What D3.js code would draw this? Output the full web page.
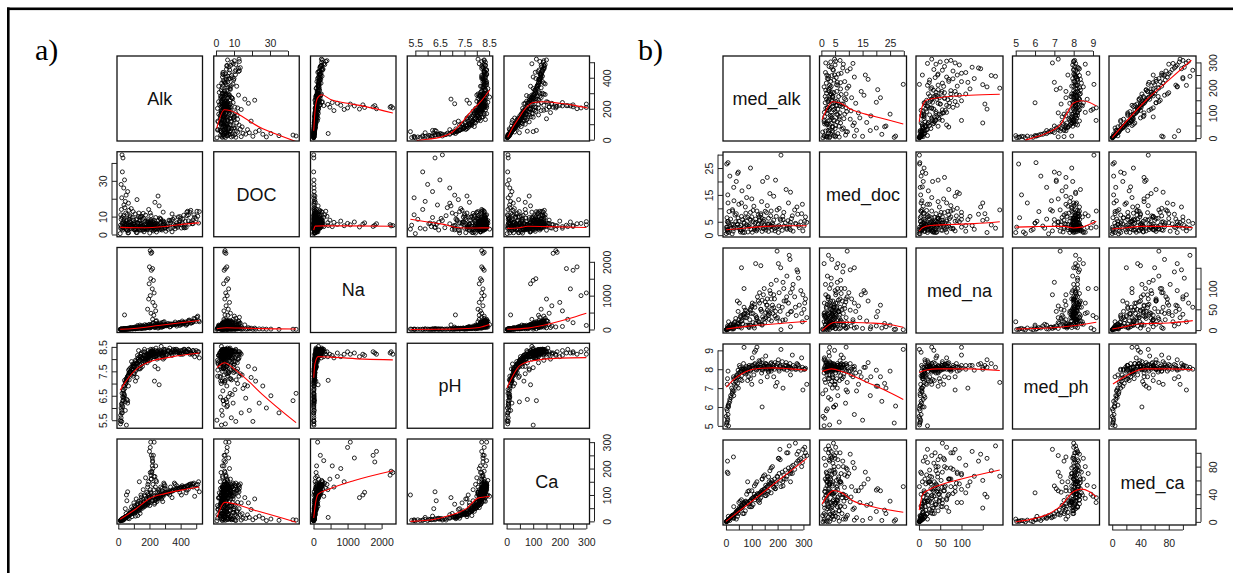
<!DOCTYPE html>
<html>
<head>
<meta charset="utf-8">
<script src="https://cdn.jsdelivr.net/npm/d3@7"></script>
<style>
  html, body { margin: 0; padding: 0; background: #fff; }
  svg { display: block; font-family: "Liberation Sans", Arial, sans-serif; }
</style>
</head>
<body>
<svg id="chart" width="1233" height="573"></svg>
<script>
// ---- a) raw variables, one value per lake (same order in every array)
const namesA = ['Alk', 'DOC', 'Na', 'pH', 'Ca'];

const aAlk = [
  14, 18, 22, 16, 25, 30, 20, 28, 35, 12,
  24, 30, 26, 18, 40, 35, 50, 22, 60, 45,
  40, 55, 65, 75, 85, 95, 48, 58, 70, 90,
  32, 42, 52, 62, 80, 100, 38, 68, 88, 78,
  45, 57, 72, 97, 34, 83, 66, 93, 51, 76,
  105, 112, 120, 128, 135, 142, 150, 158, 165, 172,
  180, 188, 195, 108, 118, 125, 138, 146, 155, 162,
  170, 177, 185, 192, 199, 102, 115, 132, 148, 168,
  183, 110, 140, 160, 175, 190, 123, 153, 196, 130,
  205, 212, 218, 225, 208, 215, 222, 230, 240, 250,
  260, 270, 280, 290, 300, 235, 255, 245, 265, 275,
  285, 295, 202, 210, 220, 228, 238, 248, 258, 268,
  278, 288, 298, 232, 262, 242, 252, 272, 282, 292,
  310, 320, 335, 350, 365, 380, 395, 410, 425, 440,
  455, 470, 485, 500, 515, 505, 490, 520, 330, 345,
  360, 375, 390, 405, 420, 435, 450, 465, 480, 510,
  205, 210, 215, 200, 220, 212, 208, 225, 198, 218,
  230, 205, 195, 222, 235, 188, 240, 210, 228, 40,
  52, 60, 45, 55, 15, 24, 36, 62, 110, 140,
  75, 95, 125, 85, 105, 65, 28, 115, 145, 160,
  135, 175, 190, 20, 33, 88, 50, 70, 100, 120,
  150, 175, 200, 225, 250, 275, 300, 325, 350, 375,
  400, 425, 450, 165, 190, 215, 240, 265, 290, 315,
  340, 365, 390, 415, 440, 60, 80, 100, 120, 140,
  155, 185, 205, 235, 255, 285, 305, 335, 355, 385,
  405, 430, 460, 480, 110, 130, 145, 170, 195, 220,
  245, 270, 295, 320, 345, 370, 395, 420, 445, 475
];
const aDoc = [
  5.2, 8.5, 3.1, 11.0, 6.4, 4.0, 14.0, 2.5, 7.8, 0.5,
  44.5, 42.8, 35.0, 28.0, 30.5, 26.0, 22.0, 20.5, 24.0, 18.5,
  6.0, 8.2, 4.5, 10.5, 3.2, 5.8, 12.0, 2.4, 7.0, 9.5,
  3.8, 15.0, 5.0, 6.6, 4.2, 2.8, 9.0, 13.5, 6.1, 3.5,
  4.8, 11.2, 5.4, 8.0, 6.8, 14.5, 1.0, 4.6, 7.6, 9.8,
  5.5, 3.0, 8.8, 4.1, 6.3, 2.6, 10.2, 5.0, 3.6, 7.4,
  4.4, 2.9, 6.9, 11.5, 4.9, 3.3, 7.7, 5.7, 2.3, 9.1,
  4.0, 6.0, 3.4, 8.3, 5.1, 6.7, 1.2, 12.0, 3.9, 5.3,
  7.1, 4.5, 9.6, 2.7, 10.8, 3.7, 6.2, 4.7, 5.9, 3.1,
  4.2, 6.1, 3.5, 5.0, 7.2, 2.8, 4.6, 8.0, 3.2, 5.6,
  4.0, 6.5, 2.5, 7.5, 3.8, 18.0, 21.5, 4.8, 9.2, 3.0,
  5.4, 6.8, 0.8, 10.5, 4.4, 3.6, 5.9, 2.9, 7.9, 4.1,
  3.3, 12.5, 5.2, 2.6, 16.0, 6.3, 4.9, 8.6, 3.9, 5.7,
  4.5, 6.0, 3.4, 8.5, 5.2, 4.0, 10.0, 6.5, 3.7, 12.5,
  5.8, 7.2, 11.0, 8.8, 6.4, 13.0, 9.6, 12.8, 7.8, 1.5,
  9.4, 4.6, 6.9, 5.5, 10.8, 3.9, 7.6, 13.5, 6.1, 10.2,
  5.0, 5.5, 4.8, 6.0, 5.2, 4.5, 6.5, 5.8, 4.2, 7.0,
  5.4, 6.2, 4.9, 7.5, 5.6, 6.8, 4.4, 8.0, 6.6, 5.0,
  3.0, 4.0, 6.0, 5.5, 3.5, 9.5, 16.5, 0.9, 3.5, 4.4,
  7.2, 12.8, 6.5, 5.0, 2.6, 17.5, 6.0, 8.2, 9.8, 11.8,
  2.4, 3.8, 4.6, 4.4, 10.5, 4.1, 2.9, 8.6, 5.9, 19.5,
  4.5, 3.0, 6.0, 2.0, 5.5, 7.0, 3.5, 8.0, 4.0, 6.5,
  9.0, 5.0, 11.0, 1.5, 7.5, 3.8, 9.5, 2.6, 6.2, 4.8,
  7.8, 3.2, 5.8, 8.6, 10.5, 2.2, 6.8, 4.2, 1.0, 5.2,
  8.4, 2.8, 12.0, 4.6, 3.4, 7.2, 1.8, 6.6, 5.6, 9.8,
  3.6, 7.4, 12.5, 8.2, 2.4, 10.0, 6.4, 3.0, 14.0, 5.4,
  1.4, 8.8, 4.4, 2.9, 11.5, 5.0, 7.6, 4.0, 13.0, 6.0
];
const aNa = [
  6, 9, 5, 12, 8, 14, 7, 11, 10, 4,
  6, 8, 5, 10, 12, 15, 9, 7, 18, 22,
  12, 20, 25, 15, 30, 35, 18, 28, 40, 22,
  9, 14, 24, 11, 45, 52, 16, 33, 27, 19,
  10, 36, 48, 60, 13, 38, 21, 29, 17, 42,
  40, 55, 70, 35, 90, 60, 45, 110, 80, 50,
  120, 65, 95, 28, 75, 48, 130, 38, 85, 58,
  140, 42, 100, 72, 150, 32, 62, 52, 105, 66,
  125, 22, 46, 78, 56, 88, 115, 30, 135, 68,
  60, 150, 90, 200, 120, 75, 180, 110, 85, 160,
  95, 130, 70, 210, 120, 55, 40, 260, 100, 145,
  80, 230, 45, 65, 300, 105, 170, 125, 60, 190,
  115, 90, 155, 70, 135, 240, 175, 65, 205, 100,
  110, 180, 90, 140, 220, 160, 120, 250, 190, 150,
  280, 200, 330, 240, 260, 360, 300, 230, 75, 130,
  170, 100, 210, 145, 175, 125, 265, 185, 225, 395,
  2330, 2250, 2280, 1850, 1800, 1750, 1500, 1450, 1350, 1200,
  1080, 1000, 900, 800, 700, 600, 550, 480, 420, 430,
  12, 20, 15, 22, 5, 8, 12, 30, 25, 40,
  18, 26, 34, 60, 70, 14, 6, 45, 55, 65,
  48, 58, 72, 4, 9, 12, 8, 16, 20, 38,
  45, 60, 80, 95, 110, 120, 140, 150, 160, 170,
  180, 200, 230, 35, 70, 85, 100, 130, 115, 135,
  155, 145, 190, 210, 175, 18, 25, 30, 40, 50,
  55, 65, 75, 90, 105, 125, 110, 165, 150, 185,
  195, 220, 250, 240, 38, 48, 58, 68, 78, 88,
  98, 108, 118, 128, 138, 148, 158, 168, 178, 205
];
const aPh = [
  5.35, 5.6, 5.9, 5.45, 6.1, 6.3, 5.8, 6.45, 6.6, 5.5,
  6.6, 6.3, 5.8, 6.0, 6.5, 6.9, 7.1, 5.45, 6.2, 5.9,
  6.9, 7.2, 7.35, 7.5, 7.6, 7.7, 7.0, 7.25, 7.45, 7.55,
  6.7, 6.8, 7.1, 7.3, 7.65, 7.8, 6.55, 7.4, 7.7, 7.5,
  7.05, 7.15, 7.6, 7.75, 6.45, 7.35, 7.55, 7.8, 7.2, 7.45,
  7.7, 7.9, 7.85, 8.0, 7.95, 8.1, 7.8, 8.05, 8.15, 7.9,
  8.2, 8.1, 8.25, 7.5, 7.65, 8.05, 7.95, 8.2, 7.7, 8.0,
  8.3, 8.15, 7.85, 8.35, 8.1, 7.4, 7.8, 7.6, 8.25, 8.4,
  8.05, 7.95, 7.75, 8.3, 7.9, 8.0, 8.15, 8.05, 8.2, 8.35,
  8.2, 8.3, 8.35, 8.25, 8.4, 8.15, 8.3, 8.2, 8.1, 8.3,
  8.2, 8.35, 8.25, 8.15, 8.4, 7.7, 7.6, 8.3, 8.05, 8.52,
  8.1, 8.35, 7.95, 8.05, 8.4, 8.2, 8.35, 8.0, 8.25, 8.3,
  8.1, 8.0, 8.25, 7.1, 6.95, 8.45, 8.2, 8.3, 8.15, 8.4,
  8.2, 8.3, 8.25, 8.35, 8.4, 8.3, 8.2, 8.35, 8.4, 8.3,
  8.35, 8.25, 8.3, 8.35, 8.3, 8.2, 8.1, 8.05, 8.45, 8.15,
  8.3, 8.4, 8.25, 8.2, 8.35, 8.3, 8.4, 8.25, 8.35, 8.3,
  8.2, 8.25, 8.3, 8.2, 8.25, 8.3, 8.15, 8.2, 8.1, 8.25,
  8.2, 8.3, 8.2, 8.1, 8.25, 8.05, 8.15, 8.2, 8.1, 7.13,
  5.3, 6.3, 6.25, 6.35, 5.7, 6.2, 6.4, 7.3, 7.1, 7.6,
  7.45, 7.3, 7.8, 7.9, 7.7, 6.9, 6.05, 7.55, 7.65, 7.85,
  8.1, 8.0, 7.95, 6.15, 6.75, 7.6, 7.0, 7.15, 7.4, 7.25,
  8.0, 8.1, 8.2, 8.25, 8.3, 8.2, 8.3, 8.35, 8.3, 8.25,
  8.35, 8.3, 8.4, 7.9, 8.1, 8.15, 8.2, 8.25, 8.3, 8.2,
  8.25, 8.35, 8.3, 8.2, 8.3, 7.3, 7.5, 7.7, 7.85, 7.95,
  8.05, 8.15, 8.0, 8.1, 8.35, 8.25, 8.15, 8.3, 8.4, 8.35,
  8.25, 8.3, 8.2, 8.35, 7.8, 7.9, 8.1, 8.0, 8.2, 8.3,
  8.15, 8.25, 8.05, 8.35, 8.2, 8.3, 8.25, 8.4, 8.3, 8.2
];
const aCa = [
  4, 6, 8, 3, 7, 10, 5, 12, 9, 2,
  5, 6, 4, 3, 9, 12, 14, 6, 20, 15,
  14, 18, 22, 26, 30, 35, 16, 20, 28, 33,
  10, 12, 19, 23, 27, 40, 11, 24, 36, 31,
  17, 21, 25, 42, 9, 29, 26, 38, 15, 34,
  45, 38, 60, 52, 48, 70, 55, 65, 75, 58,
  85, 62, 90, 35, 42, 68, 57, 80, 50, 72,
  95, 66, 78, 105, 88, 30, 46, 40, 92, 100,
  110, 54, 44, 84, 62, 70, 64, 58, 98, 76,
  120, 160, 210, 250, 300, 185, 140, 95, 80, 100,
  115, 90, 125, 105, 135, 70, 85, 150, 110, 95,
  75, 140, 60, 105, 230, 170, 130, 75, 120, 100,
  85, 95, 125, 65, 90, 155, 110, 130, 115, 145,
  120, 105, 130, 115, 140, 125, 110, 135, 128, 118,
  140, 132, 145, 138, 150, 125, 95, 112, 100, 90,
  145, 135, 120, 100, 128, 108, 122, 142, 130, 140,
  185, 175, 190, 265, 225, 250, 110, 100, 90, 240,
  300, 280, 150, 200, 170, 130, 210, 160, 120, 15,
  100, 112, 48, 78, 3, 7, 11, 12, 20, 30,
  40, 48, 22, 55, 60, 25, 8, 85, 100, 120,
  150, 165, 140, 6, 5, 18, 30, 10, 70, 45,
  60, 70, 85, 90, 95, 100, 110, 115, 120, 125,
  130, 125, 135, 55, 75, 80, 85, 100, 105, 110,
  115, 120, 125, 130, 135, 20, 28, 35, 45, 50,
  58, 65, 72, 80, 92, 100, 108, 112, 118, 122,
  128, 132, 138, 140, 40, 48, 52, 62, 70, 78,
  88, 95, 102, 108, 115, 120, 126, 130, 134, 142
];

// a) axis ticks and the ticks that carry a label
const ticksA = [
  [0, 100, 200, 300, 400, 500],
  [0, 10, 20, 30, 40],
  [0, 500, 1000, 1500, 2000],
  [5.5, 6, 6.5, 7, 7.5, 8, 8.5],
  [0, 50, 100, 150, 200, 250, 300]
];
const labelsA = [
  [0, 200, 400],
  [0, 10, 30],
  [0, 1000, 2000],
  [5.5, 6.5, 7.5, 8.5],
  [0, 100, 200, 300]
];

// a) red smoother per row (y = row variable, x = column variable)
const smoothA_alk = [null,
  [[0.4, 74], [4.6, 193], [26, 70], [44.5, -12]],
  [[5, 58], [50, 200], [120, 270], [240, 290], [500, 260], [1000, 235], [1500, 215], [2330, 172]],
  [[5.55, -5], [6.0, 3], [6.5, 15], [7.0, 48], [7.46, 124], [7.74, 178], [8.2, 254], [8.52, 319]],
  [[4, 16], [20, 70], [44, 135], [70, 200], [100, 240], [140, 245], [200, 235], [260, 220], [305, 205]]
];
const smoothA_doc = [
  [[12, 4], [150, 3.8], [300, 4.5], [420, 5.8], [520, 6.5]],
  null,
  [[5, 2.5], [50, 4.7], [300, 4.8], [1000, 4.8], [2330, 4.6]],
  [[5.3, 8.5], [6.0, 7.0], [6.6, 5.8], [7.27, 3.8], [7.8, 3.6], [8.2, 3.7], [8.52, 3.7]],
  [[2, 3.4], [40, 3.6], [80, 4.6], [150, 4.4], [300, 3.9]]
];
const smoothA_na = [
  [[12, 5], [100, 30], [257, 116], [400, 200], [520, 265]],
  [[0.5, 20], [6, 50], [15, 40], [25, 25], [44.5, 15]],
  null,
  [[5.3, 0], [6.5, 5], [7.6, 27], [8.1, 60], [8.52, 146]],
  [[2, 5], [80, 40], [152, 146], [230, 310], [300, 480]]
];
const smoothA_ph = [
  [[12, 6.73], [50, 7.1], [128, 7.65], [206, 7.9], [350, 8.1], [520, 8.25]],
  [[0.5, 7.65], [4.8, 7.85], [10, 7.6], [17, 7.17], [25.7, 6.56], [44.5, 5.4]],
  [[5, 7.24], [40, 7.8], [135, 8.1], [500, 8.08], [1500, 8.0], [2330, 7.97]],
  null,
  [[2, 6.83], [25, 7.35], [48, 7.72], [92, 7.92], [200, 8.04], [300, 8.06]]
];
const smoothA_ca = [
  [[12, 8], [103, 43], [205, 88], [300, 105], [420, 120], [520, 130]],
  [[0.5, 15], [4.8, 72], [22.5, 40], [44.5, -3]],
  [[5, 13], [60, 70], [135, 103], [430, 121], [1200, 155], [2330, 192]],
  [[5.3, 0], [6.3, 8], [6.85, 21], [7.6, 50], [8.05, 88], [8.52, 94]],
  null
];

// ---- b) site medians
const namesB = ['med_alk', 'med_doc', 'med_na', 'med_ph', 'med_ca'];

const bAlk = [
  2, 4, 6, 8, 3, 10, 12, 5, 15, 1, 18, 7, 20, 9, 25,
  22, 28, 35, 42, 50, 58, 65, 72, 80, 26,
  33, 40, 47, 55, 62, 70, 77, 24, 31, 38,
  45, 52, 60, 68, 75, 3, 8, 30, 44, 56,
  85, 92, 98, 105, 112, 118, 125, 132, 138, 145,
  150, 157, 163, 170, 176, 88, 95, 102, 108, 115,
  122, 128, 135, 142, 148, 154, 160, 167, 173, 178,
  90, 120, 140, 100, 130, 165, 110, 152, 84, 175,
  182, 188, 195, 200, 206, 212, 218, 224, 230, 236,
  242, 248, 254, 260, 266, 272, 278, 284, 290, 296,
  302, 308, 313, 198, 213, 185, 192, 203, 209, 221,
  233, 245, 257, 269, 281, 293, 305, 250, 275, 298,
  6, 5, 8, 29, 115, 135, 60, 15, 48, 160, 95, 250, 70, 10, 140,
  30, 45, 60, 75, 90, 105, 120, 135, 150, 165,
  180, 195, 210, 225, 240, 40, 55, 70, 85, 100,
  115, 130, 145, 160, 175, 190, 205, 220, 235, 250,
  50, 65, 80, 95, 110, 125, 140, 155, 170, 185
];
const bDoc = [
  3.0, 6.5, 1.2, 12.0, 2.2, 4.5, 8.8, 1.8, 3.4, 0.6, 6.0, 15.0, 2.6, 5.2, 9.5,
  4.0, 1.5, 7.5, 2.8, 11.5, 3.6, 5.8, 1.0, 14.0, 9.0,
  3.2, 20.0, 6.4, 2.0, 16.5, 4.8, 8.2, 0.5, 12.8, 5.0,
  23.0, 3.0, 7.0, 2.4, 10.5, 26.5, 27.0, 17.8, 4.2, 1.2,
  3.5, 6.0, 2.1, 9.2, 4.4, 1.6, 7.6, 3.0, 12.5, 5.2,
  2.6, 8.4, 4.0, 15.5, 3.3, 18.0, 5.6, 1.1, 10.8, 4.8,
  2.3, 6.8, 3.8, 20.0, 5.9, 2.9, 11.0, 4.2, 7.2, 1.9,
  3.9, 9.0, 1.4, 13.5, 5.4, 6.3, 2.7, 8.9, 6.6, 3.6,
  4.0, 2.5, 7.0, 3.2, 10.0, 5.5, 1.8, 8.5, 4.6, 2.2,
  12.0, 3.8, 6.2, 1.5, 9.4, 4.2, 7.8, 2.8, 5.0, 11.5,
  3.4, 6.8, 4.8, 9.4, 29.8, 14.5, 20.5, 1.0, 3.0, 5.8,
  17.0, 2.6, 7.2, 4.4, 3.6, 8.0, 5.2, 2.0, 10.5, 1.6,
  3.0, 5.0, 2.0, 4.0, 6.0, 8.0, 12.0, 22.0, 23.5, 21.5, 25.0, 16.0, 3.0, 1.0, 4.5,
  2.5, 4.0, 1.8, 6.5, 3.2, 5.0, 2.2, 7.5, 3.8, 1.4,
  4.6, 2.8, 6.0, 3.4, 5.4, 8.0, 2.0, 4.4, 1.2, 6.8,
  3.0, 5.8, 2.4, 4.2, 9.0, 1.6, 3.6, 7.0, 2.6, 4.8,
  5.2, 1.0, 3.9, 8.5, 2.1, 4.1, 6.2, 1.9, 3.1, 5.6
];
const bNa = [
  1.5, 3.0, 2.0, 5.0, 0.8, 8.0, 6.0, 2.5, 10.0, 0.6, 12.0, 4.0, 14.0, 3.5, 7.0,
  6, 12, 20, 9, 25, 35, 15, 40, 30, 4,
  18, 10, 45, 8, 22, 55, 12, 2.5, 7, 28,
  16, 65, 5, 38, 48, 1.5, 2, 3, 70, 32,
  12, 25, 40, 18, 55, 30, 70, 15, 45, 85,
  28, 60, 38, 95, 22, 8, 48, 65, 10, 35,
  80, 20, 50, 32, 100, 42, 75, 26, 88, 52,
  6, 30, 14, 58, 90, 44, 5, 68, 36, 110,
  40, 75, 120, 30, 90, 150, 55, 100, 25, 130,
  65, 170, 45, 110, 80, 35, 140, 60, 95, 20,
  50, 75, 30, 190, 1, 85, 45, 160, 20, 115,
  70, 180, 100, 55, 125, 40, 65, 8, 145, 85,
  10, 4, 6, 15, 160, 155, 150, 5, 8, 60, 12, 90, 100, 20, 12,
  8, 15, 22, 30, 12, 40, 25, 50, 18, 35,
  60, 28, 45, 70, 38, 10, 20, 32, 42, 55,
  16, 65, 26, 48, 75, 34, 58, 24, 80, 44,
  14, 36, 46, 52, 62, 20, 72, 30, 40, 54
];
const bPh = [
  5.05, 5.2, 5.4, 5.6, 5.9, 6.0, 6.2, 5.8, 6.4, 5.5, 6.6, 5.3, 6.5, 6.1, 6.8,
  7.0, 7.3, 7.5, 7.7, 7.6, 7.9, 8.0, 7.8, 7.85, 6.9,
  7.2, 7.1, 7.95, 8.1, 7.4, 8.05, 7.75, 6.7, 6.85, 7.35,
  7.25, 8.2, 7.65, 8.3, 7.9, 5.15, 6.05, 6.6, 7.55, 7.45,
  7.9, 8.1, 8.0, 8.2, 8.3, 7.95, 8.1, 8.4, 7.8, 8.15,
  8.05, 8.25, 7.9, 8.1, 8.35, 7.6, 7.5, 8.6, 7.7, 9.0,
  8.0, 8.45, 7.35, 7.95, 8.2, 8.7, 8.0, 8.15, 8.3, 8.05,
  8.2, 9.17, 8.5, 7.2, 8.1, 7.85, 8.9, 8.3, 7.4, 8.0,
  8.1, 8.0, 8.2, 8.3, 7.9, 8.1, 8.4, 8.05, 8.2, 7.95,
  8.15, 8.3, 8.0, 8.2, 8.1, 8.0, 8.25, 8.05, 7.95, 8.1,
  8.0, 8.05, 7.2, 7.3, 9.05, 7.6, 7.1, 8.5, 8.15, 7.0,
  8.35, 8.1, 8.75, 8.0, 8.2, 8.6, 8.0, 7.7, 8.3, 6.9,
  7.5, 7.2, 7.9, 7.6, 8.1, 8.2, 8.0, 6.3, 7.0, 7.6, 7.9, 8.1, 9.16, 5.0, 6.0,
  7.5, 7.7, 7.9, 8.0, 8.1, 8.05, 8.2, 8.1, 8.15, 8.0,
  8.25, 8.1, 8.2, 8.0, 8.1, 7.6, 7.85, 7.95, 8.1, 8.2,
  8.0, 8.3, 8.05, 8.15, 7.9, 8.35, 8.0, 8.1, 8.2, 8.05,
  7.8, 8.0, 8.15, 7.95, 8.25, 8.1, 8.0, 8.3, 8.05, 8.2
];
const bCa = [
  0.5, 1.0, 1.5, 2.5, 0.3, 3.5, 4.0, 1.2, 5.0, 0.0, 6.5, 2.0, 7.0, 8.0, 9.5,
  8, 10, 12, 14, 18, 20, 22, 25, 28, 7,
  11, 15, 16, 19, 24, 27, 30, 9, 6, 13,
  17, 21, 23, 26, 29, 1, 3, 5, 15, 20,
  28, 30, 33, 35, 32, 38, 40, 42, 45, 44,
  48, 50, 52, 55, 57, 26, 31, 34, 36, 37,
  41, 39, 43, 46, 47, 53, 51, 58, 56, 60,
  22, 35, 62, 45, 28, 65, 40, 38, 58, 42,
  55, 62, 58, 65, 70, 60, 72, 68, 75, 66,
  78, 74, 80, 82, 76, 85, 88, 90, 92, 86,
  95, 100, 96, 66, 51, 50, 48, 92, 105, 52,
  62, 110, 70, 114, 102, 80, 108, 58, 98, 105,
  88, 72, 70, 94, 36, 40, 20, 2, 12, 45, 30, 72, 28, 4, 42,
  22, 8, 32, 16, 45, 25, 58, 35, 68, 44,
  80, 55, 90, 62, 100, 4, 30, 12, 44, 22,
  55, 32, 66, 40, 78, 48, 92, 58, 100, 70,
  28, 12, 40, 22, 52, 30, 62, 38, 74, 50
];

const ticksB = [
  [0, 50, 100, 150, 200, 250, 300],
  [0, 5, 10, 15, 20, 25, 30],
  [0, 50, 100, 150],
  [5, 6, 7, 8, 9],
  [0, 20, 40, 60, 80, 100]
];
const labelsB = [
  [0, 100, 200, 300],
  [0, 5, 15, 25],
  [0, 50, 100],
  [5, 6, 7, 8, 9],
  [0, 40, 80]
];

const smoothB_alk = [null,
  [[0.3, 74], [2, 115], [4, 144], [6.5, 140], [11.3, 111], [16, 95], [22.3, 78], [29.8, 56]],
  [[0.6, 65], [5, 110], [10, 135], [18, 151], [55, 162], [120, 170], [190, 174]],
  [[5.5, -8], [6.2, 8], [6.75, 25], [7.36, 58], [7.7, 105], [7.98, 138], [8.39, 148], [8.8, 142], [9.17, 127]],
  [[0, 2], [48, 150], [80, 230], [112, 309]]
];
const smoothB_doc = [
  [[1, 2.0], [80, 2.7], [152, 3.3], [230, 3.5], [313, 3.5]],
  null,
  [[0.6, 1.5], [8, 2.8], [27, 3.6], [74, 4.0], [130, 4.3], [190, 5.0]],
  [[5.0, 3.0], [6.0, 3.2], [6.75, 3.3], [7.5, 3.3], [7.98, 2.7], [8.4, 3.0], [8.8, 4.0], [9.17, 5.2]],
  [[0, 2.3], [20, 2.8], [40, 3.3], [79, 3.3], [114, 2.8]]
];
const smoothB_na = [
  [[1, 2.5], [80, 9], [151, 13], [230, 17], [313, 21]],
  [[0.3, -1], [5, 19], [10, 18.5], [18, 17], [24, 14], [29.8, 7]],
  null,
  [[5.0, 2.6], [6.75, 5], [7.5, 8], [8.39, 13], [9.17, 19]],
  [[0, 2.6], [20, 9], [40, 15.4], [79, 17], [114, 22.7]]
];
const smoothB_ph = [
  [[1, 7.05], [30, 7.45], [60, 7.75], [91, 7.95], [140, 8.05], [183, 8.07], [250, 8.02], [313, 7.95]],
  [[0.3, 7.88], [3.7, 8.02], [8, 7.85], [16.7, 7.3], [23, 6.9], [29.8, 6.4]],
  [[0.6, 7.83], [15, 7.95], [45, 8.02], [120, 8.02], [190, 7.93]],
  null,
  [[1, 7.22], [22, 7.7], [45, 8.02], [80, 8.02], [114, 7.97]]
];
const smoothB_ca = [
  [[0, 0.6], [313, 92]],
  [[0.3, 26], [4.6, 45.5], [7.1, 43], [11.3, 31], [18.7, 22], [29.8, 14]],
  [[0.6, 17], [9, 40], [25, 47], [48, 53], [100, 62], [190, 75]],
  [[5.0, 0], [6.0, 5], [6.75, 12], [7.36, 24], [7.98, 43.6], [8.39, 47.4], [8.8, 44], [9.17, 36]],
  null
];

const svg = d3.select('#chart');

// page frame: top and left rule
svg.append('rect').attr('x', 7).attr('y', 7.5).attr('width', 1226).attr('height', 2.6).attr('fill', '#000');
svg.append('rect').attr('x', 7).attr('y', 7.5).attr('width', 2.6).attr('height', 566).attr('fill', '#000');

svg.append('text').attr('x', 35).attr('y', 60)
  .attr('font-family', '"Liberation Serif", "Times New Roman", serif')
  .attr('font-size', 30).text('a)');
svg.append('text').attr('x', 638).attr('y', 60)
  .attr('font-family', '"Liberation Serif", "Times New Roman", serif')
  .attr('font-size', 30).text('b)');

let clipId = 0;

function drawMatrix(names, cols, ticks, labels, smooth, L) {
  const n = names.length;
  const g = svg.append('g');

  // R pairs(): data range padded by 4% on each side
  const dom = cols.map(v => {
    const [lo, hi] = d3.extent(v);
    const p = (hi - lo) * 0.04;
    return [lo - p, hi + p];
  });
  const xs = dom.map((d, j) => d3.scaleLinear().domain(d)
    .range([L.x0 + j * L.stepX, L.x0 + j * L.stepX + L.w]));
  const ys = dom.map((d, i) => d3.scaleLinear().domain(d)
    .range([L.y0 + i * L.stepY + L.h, L.y0 + i * L.stepY]));
  const idx = d3.range(cols[0].length);

  for (let i = 0; i < n; i++) {
    for (let j = 0; j < n; j++) {
      const px = L.x0 + j * L.stepX, py = L.y0 + i * L.stepY;
      const cell = g.append('g');

      if (i === j) {
        cell.append('text')
          .attr('x', px + L.w / 2).attr('y', py + L.h / 2)
          .attr('text-anchor', 'middle').attr('dy', '0.35em')
          .attr('font-size', 18).attr('fill', '#111')
          .text(names[i]);
      } else {
        const id = 'clip' + (clipId++);
        cell.append('clipPath').attr('id', id)
          .append('rect').attr('x', px).attr('y', py).attr('width', L.w).attr('height', L.h);

        cell.append('g')
          .selectAll('circle')
          .data(idx)
          .join('circle')
            .attr('cx', k => xs[j](cols[j][k]))
            .attr('cy', k => ys[i](cols[i][k]))
            .attr('r', 2)
            .attr('fill', 'none')
            .attr('stroke', '#000')
            .attr('stroke-width', 0.85);

        const pts = smooth[i][j];
        if (pts) {
          cell.append('path')
            .attr('clip-path', `url(#${id})`)
            .attr('d', d3.line()
              .x(d => xs[j](d[0]))
              .y(d => ys[i](d[1]))
              .curve(d3.curveMonotoneX)(pts))
            .attr('fill', 'none')
            .attr('stroke', '#ff0000')
            .attr('stroke-width', 1.1);
        }
      }

      cell.append('rect')
        .attr('x', px).attr('y', py).attr('width', L.w).attr('height', L.h)
        .attr('fill', 'none').attr('stroke', '#111').attr('stroke-width', 1.3);
    }
  }

  const right = L.x0 + (n - 1) * L.stepX + L.w;
  const bottom = L.y0 + (n - 1) * L.stepY + L.h;

  for (let j = 0; j < n; j++) {
    if (j % 2 === 1) {
      axisAt(d3.axisTop(xs[j]), ticks[j], labels[j], 'top', `translate(0,${L.y0})`);
    } else {
      axisAt(d3.axisBottom(xs[j]), ticks[j], labels[j], 'bottom', `translate(0,${bottom})`);
    }
  }
  for (let i = 0; i < n; i++) {
    if (i % 2 === 1) {
      axisAt(d3.axisLeft(ys[i]), ticks[i], labels[i], 'left', `translate(${L.x0},0)`);
    } else {
      axisAt(d3.axisRight(ys[i]), ticks[i], labels[i], 'right', `translate(${right},0)`);
    }
  }

  function axisAt(axis, tv, lv, orient, tr) {
    const scale = axis.scale();
    const ax = g.append('g').attr('transform', tr)
      .call(axis.tickValues(tv).tickSize(5)
        .tickFormat(d => lv.includes(d) ? String(d) : ''));
    ax.attr('font-family', null).attr('font-size', null);
    ax.select('.domain').remove();
    ax.selectAll('.tick line').attr('stroke', '#222');

    // axis line only between the outer ticks, as R draws it
    const a = scale(tv[0]), b = scale(tv[tv.length - 1]);
    const horiz = orient === 'top' || orient === 'bottom';
    const s = (orient === 'top' || orient === 'left') ? -5 : 5;
    ax.append('line')
      .attr('x1', horiz ? a : s).attr('x2', horiz ? b : s)
      .attr('y1', horiz ? s : a).attr('y2', horiz ? s : b)
      .attr('stroke', '#222');

    const txt = ax.selectAll('.tick text')
      .attr('fill', '#222').attr('font-size', 10.5)
      .attr('text-anchor', 'middle').attr('dy', '0.35em');
    if (orient === 'top') txt.attr('y', -13);
    if (orient === 'bottom') txt.attr('y', 18);
    if (orient === 'left') txt.attr('x', null).attr('transform', 'translate(-13.5,0) rotate(-90)');
    if (orient === 'right') txt.attr('x', null).attr('transform', 'translate(17.5,0) rotate(-90)');
  }
}

drawMatrix(namesA, [aAlk, aDoc, aNa, aPh, aCa], ticksA, labelsA,
  [smoothA_alk, smoothA_doc, smoothA_na, smoothA_ph, smoothA_ca],
  { x0: 117, stepX: 96.75, w: 85.5, y0: 56, stepY: 95.75, h: 85 });

drawMatrix(namesB, [bAlk, bDoc, bNa, bPh, bCa], ticksB, labelsB,
  [smoothB_alk, smoothB_doc, smoothB_na, smoothB_ph, smoothB_ca],
  { x0: 723, stepX: 96.5, w: 87, y0: 56, stepY: 96, h: 85 });
</script>
</body>
</html>
